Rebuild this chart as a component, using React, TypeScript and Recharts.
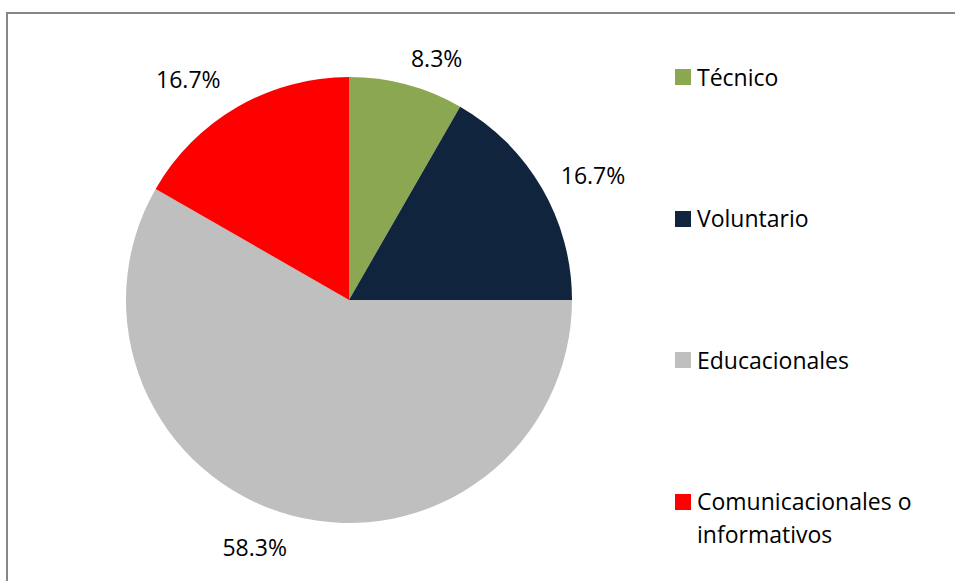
import { PieChart, Pie, Cell, Legend } from 'recharts';

const categories = ['Técnico', 'Voluntario', 'Educacionales', 'Comunicacionales o informativos'];
const shares = [8.3, 16.7, 58.3, 16.7];
const percentLabels = ['8.3%', '16.7%', '58.3%', '16.7%'];
const colors = ['#8BA752', '#10243E', '#BFBFBF', '#FF0000'];

const data = categories.map((name, i) => ({ name, value: shares[i] }));

const FONT = '"Open Sans", sans-serif';
const RADIAN = Math.PI / 180;
// Excel "best fit" puts labels slightly off the mid angle
const LABEL_NUDGE = [-5, -3, -6, 6];
const LABEL_GAP = [34, 51, 41, 50];

function renderLabel(props: any) {
  const { cx, cy, midAngle, outerRadius, index } = props;
  const a = (midAngle + LABEL_NUDGE[index]) * RADIAN;
  const r = outerRadius + LABEL_GAP[index];
  const x = cx + r * Math.cos(a);
  const y = cy - r * Math.sin(a);
  return (
    <text x={x} y={y} textAnchor="middle" dominantBaseline="central"
      fill="#000" fontSize={23} fontFamily={FONT}>
      {percentLabels[index]}
    </text>
  );
}

// legend keeps the series order (recharts would sort it by name)
function renderLegend() {
  return (
    <div style={{ fontFamily: FONT, fontSize: 23, lineHeight: '33px', color: '#000' }}>
      {categories.map((name, i) => (
        <div key={name} style={{ display: 'flex', alignItems: 'flex-start', height: 141.5 }}>
          <div style={{ width: 16, height: 16, marginTop: 8.5, marginRight: 6, flexShrink: 0, background: colors[i] }} />
          <div style={{ width: 235 }}>{name}</div>
        </div>
      ))}
    </div>
  );
}

export default function App() {
  return (
    <div style={{ position: 'absolute', left: 0, top: 0, width: 955, height: 581, overflow: 'hidden', background: '#fff' }}>
      <div style={{ position: 'absolute', left: 6, top: 12, width: 980, height: 600, border: '2px solid #878787' }} />
      <div style={{ position: 'absolute', left: 0, top: 0 }}>
        <PieChart width={955} height={581} margin={{ top: 0, right: 0, bottom: 0, left: 0 }}>
          <Pie
            data={data}
            dataKey="value"
            nameKey="name"
            cx={349}
            cy={300}
            outerRadius={223}
            startAngle={90}
            endAngle={-270}
            stroke="none"
            label={renderLabel}
            labelLine={false}
            isAnimationActive={false}
          >
            {data.map((d, i) => (
              <Cell key={d.name} fill={colors[i]} />
            ))}
          </Pie>
          <Legend
            layout="vertical"
            align="right"
            verticalAlign="top"
            content={renderLegend}
            wrapperStyle={{ left: 675, top: 60.5, width: 260, right: 'auto' }}
          />
        </PieChart>
      </div>
    </div>
  );
}
